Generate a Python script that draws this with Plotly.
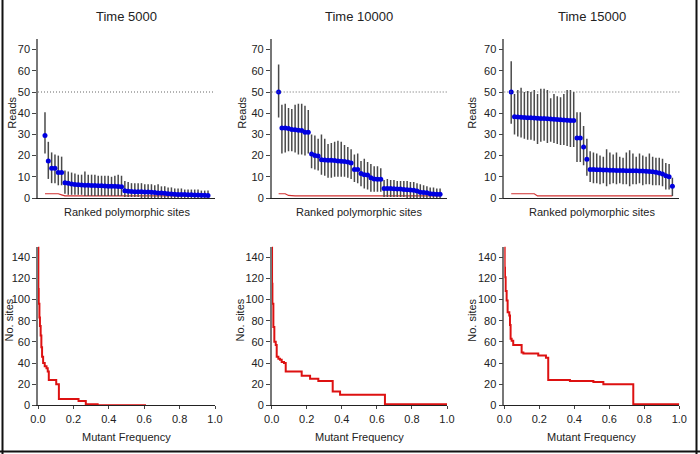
import plotly.graph_objects as go

# ---------------- data ----------------
titles = ["Time 5000", "Time 10000", "Time 15000"]
ranks = list(range(1, 51))

reads_5000 = [29.5, 17.5, 14, 14, 12, 12, 7.2, 7.0, 6.6, 6.4, 6.2, 6.1, 6.0, 6.0, 5.9, 5.9, 5.8, 5.8,
              5.7, 5.6, 5.6, 5.5, 5.4, 5.3, 3.4, 3.2, 3.1, 3.0, 3.0, 2.9, 2.8, 2.8, 2.7, 2.6, 2.4, 2.3,
              2.2, 2.0, 1.9, 1.8, 1.7, 1.6, 1.6, 1.5, 1.5, 1.4, 1.4, 1.3, 1.3, 1.2]
upper_5000 = [40.5, 26.5, 21.5, 20.5, 20.0, 19.5, 13.0, 12.5, 12.0, 11.5, 11.0, 11.0, 12.5, 11.0, 11.0,
              11.0, 10.5, 10.5, 10.5, 10.5, 10.0, 10.5, 11.0, 10.5, 8.0, 7.5, 7.0, 7.0, 7.0, 7.0, 6.5,
              6.5, 6.5, 6.0, 6.5, 5.5, 5.5, 5.0, 5.0, 4.5, 4.5, 4.5, 4.0, 4.0, 4.0, 4.0, 4.0, 3.5, 3.5, 3.5]
lower_5000 = [21, 9, 7, 7, 6, 6, 2, 1.5, 1.5, 1.5, 1.5, 1.5, 1, 1, 1, 1, 1, 1, 1, 1, 1, 1, 1, 1,
              0.5, 0.5, 0.5, 0.5, 0.5, 0, 0, 0, 0, 0, 0, 0, 0, 0, 0, 0, 0, 0, 0, 0, 0, 0, 0, 0, 0, 0]
thresh_5000 = [2, 2, 2, 2, 2, 1.5] + [1] * 44

reads_10000 = [50, 33.0, 33.0, 32.8, 32.3, 32.2, 32.0, 31.8, 31.0, 31.0, 20.8, 20.0, 19.8, 18.0, 17.9,
               17.8, 17.8, 17.7, 17.5, 17.3, 17.2, 17.0, 16.5, 13.5, 13.5, 11.5, 11.0, 10.8, 9.5, 9.0,
               8.8, 8.8, 4.5, 4.5, 4.5, 4.4, 4.3, 4.2, 4.0, 3.9, 3.8, 3.6, 3.3, 2.7, 2.6, 2.5, 2.0,
               1.9, 1.8, 1.8]
upper_10000 = [63, 44, 44.5, 42.5, 42, 44, 44.5, 44.5, 43.5, 41.5, 30, 29.5, 28, 30, 28, 25.5, 26,
               26.5, 27, 26.5, 25, 24, 23, 20.5, 21, 17.5, 18.5, 17, 16, 15, 15, 14, 8.5, 9, 8.5, 8.5,
               8, 8, 8, 8, 7.5, 7.5, 7, 6.5, 6, 5.5, 5, 5, 4.5, 4.5]
lower_10000 = [38, 21, 21.5, 22, 22, 21.5, 20.5, 20.5, 20, 21, 14, 13.5, 13, 11, 10.5, 9.5, 9.5, 10,
               10, 10, 10, 9.5, 9, 7.5, 7, 5.5, 4.5, 4, 3, 3, 3, 3, 0.5, 0.5, 0.5, 0.5, 0.5, 0.5,
               0.5, 0, 0, 0, 0, 0, 0, 0, 0, 0, 0, 0]
thresh_10000 = [2, 2, 2, 1.2] + [1] * 46

reads_15000 = [50, 38.3, 38.2, 38.1, 38.0, 37.9, 37.8, 37.7, 37.6, 37.5, 37.5, 37.4, 37.3, 37.2, 37.0,
               36.9, 36.8, 36.7, 36.6, 36.5, 28.3, 28.3, 24.0, 18.3, 13.5, 13.4, 13.3, 13.3, 13.2,
               13.2, 13.1, 13.1, 13.0, 13.0, 13.0, 12.9, 12.9, 12.8, 12.8, 12.7, 12.7, 12.6, 12.5,
               12.4, 12.2, 11.8, 11.3, 10.5, 10.0, 5.5]
upper_15000 = [64.5, 49, 51, 52, 50, 50.5, 50, 51, 49, 51.5, 51.5, 51, 47, 49, 48, 47.5, 49, 51, 51,
               50, 40.5, 40.5, 34, 28, 22, 21.5, 21, 20, 19.5, 23, 21.5, 20.5, 21.5, 19.5, 19, 21.5,
               22.5, 21, 19.5, 21, 20, 19.5, 21, 19.5, 19, 19, 18.5, 16.5, 16, 9.5]
lower_15000 = [35, 30, 29, 28.5, 28, 27.5, 27.5, 27, 25.5, 26.5, 27, 26, 26.5, 26, 25.5, 25, 25, 24.5,
               24, 24, 17, 17, 15.5, 10.5, 7.5, 7, 7, 6.5, 7, 5.5, 6.5, 7, 6.5, 7, 6.5, 6.5, 5.5, 6.5,
               6.5, 7, 6, 6.5, 6.5, 6, 6, 6, 5.5, 4, 4, 1]
thresh_15000 = [2] * 8 + [1] * 42

freq_5000 = [0, 0.002, 0.004, 0.008, 0.011, 0.015, 0.019, 0.023, 0.029, 0.038, 0.048, 0.055, 0.061,
             0.103, 0.118, 0.229, 0.270, 0.337, 0.610]
sites_5000 = [150, 110, 96, 83, 75, 66, 55, 46, 40, 37, 35, 32, 24, 20, 6, 4, 1, 0, 0]

freq_10000 = [0, 0.002, 0.004, 0.0095, 0.015, 0.023, 0.0285, 0.038, 0.0475, 0.057, 0.070, 0.080,
              0.171, 0.219, 0.266, 0.348, 0.390, 0.646, 1.0]
sites_10000 = [150, 115, 96, 74, 60, 57, 46, 44, 43, 41, 40, 32, 28, 25, 23, 13, 10, 1, 1]

freq_15000 = [0, 0.002, 0.004, 0.0076, 0.0133, 0.019, 0.0286, 0.0324, 0.036, 0.042, 0.051, 0.099,
              0.109, 0.194, 0.238, 0.251, 0.375, 0.509, 0.566, 0.737, 1.0]
sites_15000 = [150, 130, 121, 108, 99, 88, 85, 76, 63, 61, 57, 50, 49, 47, 45, 24, 23, 22, 20, 1, 1]

reads_tick_vals = [0, 10, 20, 30, 40, 50, 60, 70]
sites_tick_vals = [0, 20, 40, 60, 80, 100, 120, 140]
freq_tick_vals = [0.0, 0.2, 0.4, 0.6, 0.8, 1.0]

reads = [reads_5000, reads_10000, reads_15000]
uppers = [upper_5000, upper_10000, upper_15000]
lowers = [lower_5000, lower_10000, lower_15000]
threshs = [thresh_5000, thresh_10000, thresh_15000]
freqs = [freq_5000, freq_10000, freq_15000]
sites = [sites_5000, sites_10000, sites_15000]

# ---------------- layout geometry (pixels) ----------------
W, H = 700, 454
FONT = "Liberation Sans, Arial, Helvetica, sans-serif"
col_px = [(38, 215), (271.7, 447), (504.3, 679.3)]
top_px = (39, 198)
bot_px = (246.7, 405.3)


def fx(p):
    return p / W


def fy(p):
    return 1 - p / H


def ax_ref(letter, n):
    return letter if n == 1 else "%s%d" % (letter, n)


fig = go.Figure()
layout = dict(
    template="none",
    width=W, height=H, margin=dict(l=0, r=0, t=0, b=0, pad=0, autoexpand=False),
    paper_bgcolor="white", plot_bgcolor="white", showlegend=False,
    font=dict(family=FONT, size=11, color="#222"),
)
annotations = []
shapes = []

for i in range(3):
    xa_top = ax_ref("x", i + 1)
    ya_top = ax_ref("y", i + 1)
    xa_bot = ax_ref("x", i + 4)
    ya_bot = ax_ref("y", i + 4)
    x0, x1 = col_px[i]

    # top panel
    err_up = [u - v for u, v in zip(uppers[i], reads[i])]
    err_dn = [v - l for v, l in zip(reads[i], lowers[i])]
    fig.add_trace(go.Scatter(
        x=ranks, y=threshs[i], mode="lines", xaxis=xa_top, yaxis=ya_top,
        line=dict(color="#d03030", width=1.2), hoverinfo="skip"))
    fig.add_trace(go.Scatter(
        x=ranks, y=reads[i], mode="markers", xaxis=xa_top, yaxis=ya_top,
        marker=dict(color="#0000e0", size=5, line=dict(width=0)),
        error_y=dict(type="data", symmetric=False, array=err_up, arrayminus=err_dn,
                     color="#4a4a4a", thickness=1.5, width=0)))

    # bottom panel
    fig.add_trace(go.Scatter(
        x=freqs[i], y=sites[i], mode="lines", line_shape="hv", xaxis=xa_bot, yaxis=ya_bot,
        line=dict(color="#dd1111", width=2)))

    common = dict(automargin=False, showgrid=False, zeroline=False, mirror=False)
    layout[ax_ref("xaxis", i + 1)] = dict(
        domain=[fx(x0), fx(x1)], anchor=ya_top, range=[-1.1, 52.1],
        showline=True, linecolor="#222", linewidth=1, showticklabels=False,
        ticks="", **common)
    layout[ax_ref("yaxis", i + 1)] = dict(
        domain=[fy(top_px[1]), fy(top_px[0])], anchor=xa_top, range=[0, 75],
        tickvals=reads_tick_vals, ticks="outside", ticklen=4, tickcolor="#444",
        showline=True, linecolor="#777", linewidth=1.5,
        tickfont=dict(size=11, color="#222"), **common)
    layout["xaxis%d" % (i + 4)] = dict(
        domain=[fx(x0), fx(x1)], anchor=ya_bot, range=[0, 1],
        tickvals=freq_tick_vals, tickformat=".1f", ticks="outside",
        ticklen=3, tickcolor="#444", showline=True, linecolor="#222",
        linewidth=1, tickfont=dict(size=11, color="#222"), **common)
    layout["yaxis%d" % (i + 4)] = dict(
        domain=[fy(bot_px[1]), fy(bot_px[0])], anchor=xa_bot,
        range=[0, 150], tickvals=sites_tick_vals, ticks="outside",
        ticklen=4, tickcolor="#444", showline=True, linecolor="#777",
        linewidth=1.5, tickfont=dict(size=11, color="#222"), **common)

    # dotted reference line at 50 reads
    shapes.append(dict(type="line", xref="%s domain" % xa_top, yref=ya_top, x0=0, x1=1, y0=50, y1=50,
                       line=dict(color="#666", width=1, dash="1px,2px")))

    cx = fx((x0 + x1) / 2)
    annotations.append(dict(text=titles[i], x=cx, y=fy(17), xref="paper", yref="paper",
                            showarrow=False, font=dict(size=13, color="#222"),
                            xanchor="center", yanchor="middle"))
    annotations.append(dict(text="Ranked polymorphic sites", x=cx, y=fy(211.5), xref="paper",
                            yref="paper", showarrow=False, font=dict(size=11, color="#222"),
                            xanchor="center", yanchor="middle"))
    annotations.append(dict(text="Mutant Frequency", x=cx, y=fy(436.5), xref="paper",
                            yref="paper", showarrow=False, font=dict(size=11, color="#222"),
                            xanchor="center", yanchor="middle"))
    reads_x = [11.7, 241.7, 471.7][i]
    sites_x = [8.5, 239.5, 471.7][i]
    annotations.append(dict(text="Reads", x=fx(reads_x), y=fy(113), xref="paper", yref="paper",
                            showarrow=False, textangle=-90, font=dict(size=11, color="#222"),
                            xanchor="center", yanchor="middle"))
    annotations.append(dict(text="No. sites", x=fx(sites_x), y=fy(320), xref="paper",
                            yref="paper", showarrow=False, textangle=-90,
                            font=dict(size=11, color="#222"), xanchor="center", yanchor="middle"))

# outer frame
frame = dict(color="#111", width=2)
shapes.append(dict(type="line", xref="paper", yref="paper", x0=fx(2.5), x1=fx(2.5), y0=0, y1=1, line=frame))
shapes.append(dict(type="line", xref="paper", yref="paper", x0=fx(696.5), x1=fx(696.5), y0=0, y1=1, line=frame))
shapes.append(dict(type="line", xref="paper", yref="paper", x0=0, x1=1, y0=fy(451.5), y1=fy(451.5), line=frame))

layout["annotations"] = annotations
layout["shapes"] = shapes
fig.update_layout(**layout)
fig.write_html("out.html", config={"displayModeBar": False},
               post_script="document.body.style.margin='0';document.body.style.overflow='hidden';")
